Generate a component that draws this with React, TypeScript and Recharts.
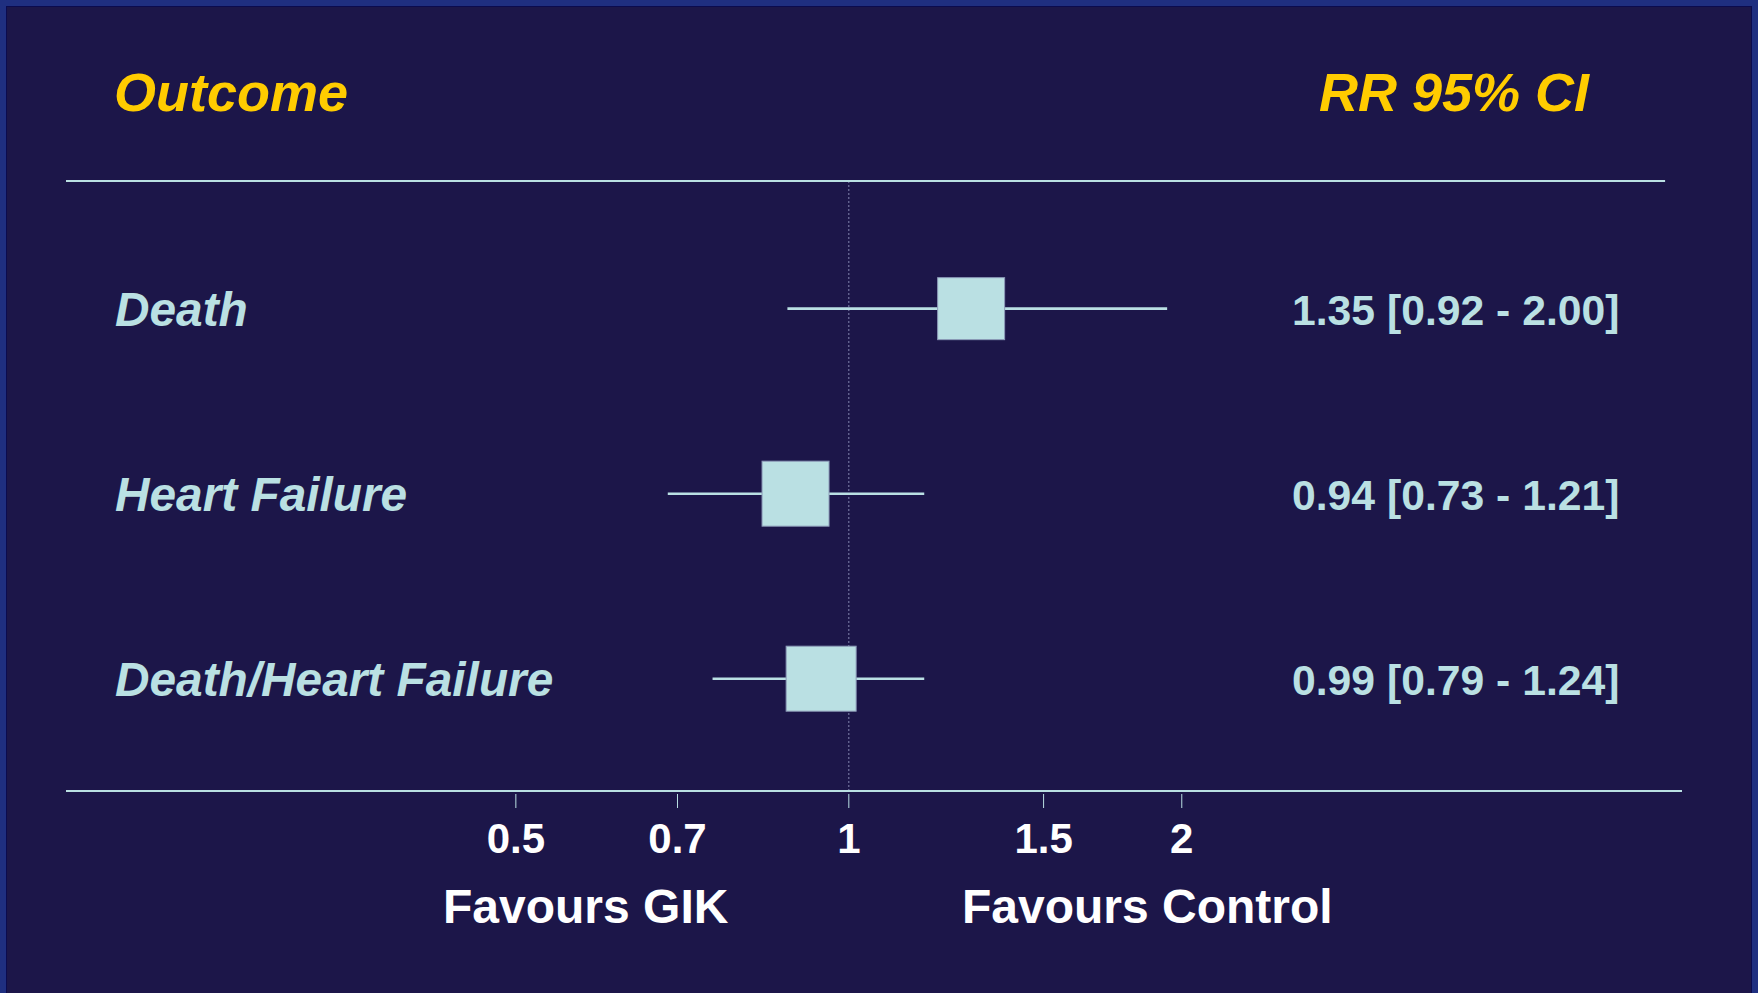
import React from 'react';
import { ComposedChart, Scatter, XAxis, YAxis, ErrorBar, ReferenceLine } from 'recharts';

// ---- data ----
const outcomes = ['Death', 'Heart Failure', 'Death/Heart Failure'];
const rowIds = [1, 2, 3];
// values as printed in the right-hand column
const reportedRR = ['1.35', '0.94', '0.99'];
const reportedLow = ['0.92', '0.73', '0.79'];
const reportedHigh = ['2.00', '1.21', '1.24'];
// values as drawn by the markers in the picture
const markerRR = [1.29, 0.895, 0.944];
const markerLow = [0.88, 0.686, 0.753];
const markerHigh = [1.94, 1.17, 1.17];
const xTicks = [0.5, 0.7, 1, 1.5, 2];
const leftFavour = 'Favours GIK';
const rightFavour = 'Favours Control';
const headerLeft = 'Outcome';
const headerRight = 'RR 95% CI';

// ---- styles ----
const W = 1758;
const H = 993;
const BG = '#1C1649';
const FRAME = '#1F2F80';
const FRAME_DARK = '#0B0B4E';
const LIGHT = '#BAE0E3';
const YELLOW = '#FFCC00';
const FONT = '"Liberation Sans", Arial, Helvetica, sans-serif';
const BOX_SIZES = [
  { w: 67, h: 62 },
  { w: 67, h: 65 },
  { w: 70, h: 65 },
];
const X_MIN = 0.196;
const X_MAX = 5.666;
const TOP_LINE_END = 5.47;
const Y_MIN = 0.31;
const Y_MAX = 3.607;

const data = rowIds.map((row, i) => ({
  row,
  rr: markerRR[i],
  err: [markerRR[i] - markerLow[i], markerHigh[i] - markerRR[i]],
}));

const BoxShape = (props: any) => {
  const { cx, cy, payload } = props;
  const s = BOX_SIZES[payload.row - 1];
  return (
    <rect
      x={cx - s.w / 2}
      y={cy - s.h / 2}
      width={s.w}
      height={s.h}
      fill={LIGHT}
      stroke="#8C9AB8"
      strokeWidth={1}
    />
  );
};

const RowTick = (props: any) => {
  const { y, payload } = props;
  const i = rowIds.indexOf(payload.value);
  if (i < 0) return null;
  return (
    <g>
      <text
        x={115}
        y={y + 17.5}
        fill={LIGHT}
        fontFamily={FONT}
        fontSize={47.8}
        fontWeight="bold"
        fontStyle="italic"
        textAnchor="start"
      >
        {outcomes[i]}
      </text>
      <text
        x={1292}
        y={y + 16}
        fill={LIGHT}
        fontFamily={FONT}
        fontSize={42.7}
        fontWeight="bold"
        textAnchor="start"
      >
        {`${reportedRR[i]} [${reportedLow[i]} - ${reportedHigh[i]}]`}
      </text>
    </g>
  );
};

const XTick = (props: any) => {
  const { x, y, payload } = props;
  return (
    <g>
      <line x1={x} x2={x} y1={y + 3} y2={y + 17} stroke={LIGHT} strokeWidth={1} />
      <text
        x={x}
        y={y + 62}
        fill="#FFFFFF"
        fontFamily={FONT}
        fontSize={42}
        fontWeight="bold"
        textAnchor="middle"
      >
        {String(payload.value)}
      </text>
    </g>
  );
};

export default function App() {
  return (
    <div style={{ position: 'absolute', left: 0, top: 0, width: W, height: H, background: FRAME, overflow: 'hidden' }}>
      <div
        style={{
          position: 'absolute',
          left: 6,
          top: 6,
          width: W - 12,
          height: H,
          background: FRAME_DARK,
        }}
      />
      <div
        style={{
          position: 'absolute',
          left: 7,
          top: 7,
          width: W - 14,
          height: H,
          background: BG,
        }}
      />
      <div style={{ position: 'absolute', left: 0, top: 0 }}>
        <ComposedChart width={W} height={H} margin={{ top: 181, left: 65, right: 76, bottom: 102 }}>
          <XAxis
            type="number"
            dataKey="rr"
            scale="log"
            domain={[X_MIN, X_MAX]}
            allowDataOverflow
            ticks={xTicks}
            interval={0}
            height={100}
            tickSize={0}
            tickMargin={0}
            tickLine={false}
            axisLine={{ stroke: LIGHT, strokeWidth: 2 }}
            tick={<XTick />}
          />
          <YAxis
            type="number"
            dataKey="row"
            domain={[Y_MIN, Y_MAX]}
            reversed
            allowDataOverflow
            ticks={rowIds}
            interval={0}
            width={1}
            axisLine={false}
            tickLine={false}
            tick={<RowTick />}
          />
          <ReferenceLine x={1} stroke="#8487AE" strokeWidth={1} strokeDasharray="2 2" />
          <ReferenceLine
            segment={[
              { x: X_MIN, y: Y_MIN },
              { x: TOP_LINE_END, y: Y_MIN },
            ]}
            stroke={LIGHT}
            strokeWidth={2}
          />
          <Scatter data={data} shape={<BoxShape />} isAnimationActive={false}>
            <ErrorBar dataKey="err" direction="x" width={0} stroke={LIGHT} strokeWidth={2.6} isAnimationActive={false} />
          </Scatter>
        </ComposedChart>
      </div>
      <svg
        width={W}
        height={H}
        style={{ position: 'absolute', left: 0, top: 0, pointerEvents: 'none' }}
      >
        <text x={114} y={111} fill={YELLOW} fontFamily={FONT} fontSize={54} fontWeight="bold" fontStyle="italic">
          {headerLeft}
        </text>
        <text x={1319} y={111} fill={YELLOW} fontFamily={FONT} fontSize={54} fontWeight="bold" fontStyle="italic">
          {headerRight}
        </text>
        <text x={962} y={923} fill="#FFFFFF" fontFamily={FONT} fontSize={48} fontWeight="bold">
          {rightFavour}
        </text>
        <text x={443} y={923} fill="#FFFFFF" fontFamily={FONT} fontSize={48} fontWeight="bold">
          {leftFavour}
        </text>
      </svg>
    </div>
  );
}
